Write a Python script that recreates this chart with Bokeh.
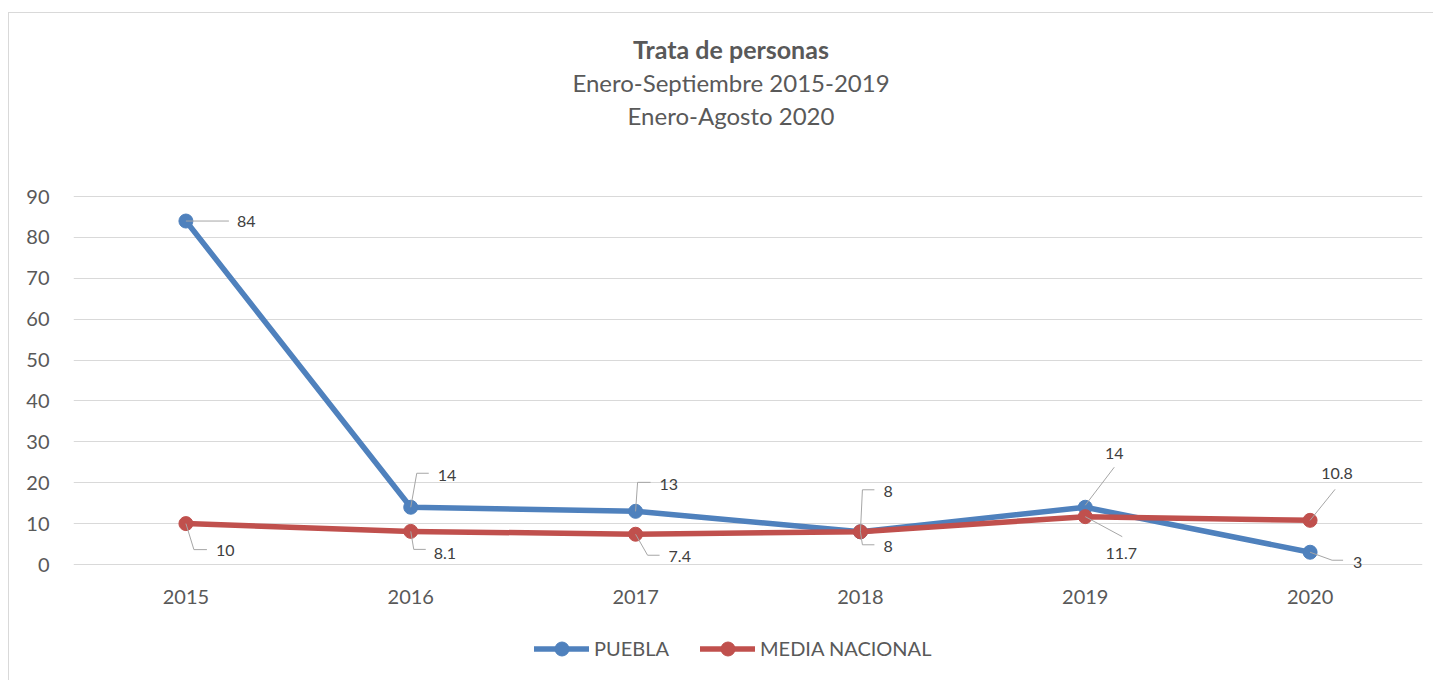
from bokeh.plotting import figure
from bokeh.layouts import column
from bokeh.models import (ColumnDataSource, LabelSet, Label, Legend, LegendItem,
                          FixedTicker, Range1d)
from bokeh.embed import file_html
from bokeh.resources import INLINE
from bokeh.core.properties import value

# ---------------- data ----------------
years = ["2015", "2016", "2017", "2018", "2019", "2020"]
puebla = [84, 14, 13, 8, 14, 3]
media_nacional = [10, 8.1, 7.4, 8, 11.7, 10.8]
series_names = ["PUEBLA", "MEDIA NACIONAL"]
title_lines = ["Trata de personas", "Enero-Septiembre 2015-2019", "Enero-Agosto 2020"]
y_ticks = [0, 10, 20, 30, 40, 50, 60, 70, 80, 90]

# ---------------- styles / layout ----------------
OX, OY = 9, 13                      # content origin on the page (inside css border)
W = 1433 - OX
SPLIT = 620                         # page y where the legend strip begins
H_MAIN = SPLIT - OY
H_LEG = 680 - SPLIT
PAGE_FRAME_L, PAGE_FRAME_R = 73, 1422
PAGE_FRAME_T, PAGE_FRAME_B = 14, 580
PAGE_Y90, PAGE_Y0 = 196, 564
ML = PAGE_FRAME_L - OX
MR = W - (PAGE_FRAME_R - OX)
MT = PAGE_FRAME_T - OY
MB = SPLIT - PAGE_FRAME_B
FW = W - ML - MR
PX_UNIT = (PAGE_Y0 - PAGE_Y90) / 90.0
Y_HI = 90 + (PAGE_Y90 - PAGE_FRAME_T) / PX_UNIT
Y_LO = -(PAGE_FRAME_B - PAGE_Y0) / PX_UNIT
PX_CAT = FW / len(years)

FONT = "Lato"
BLUE = "#4f81bd"
RED = "#c0504d"
TXT = "#595959"
LBL = "#404040"
GRID = "#d9d9d9"
LEADER = "#a6a6a6"

# data-label placement (screen px, y measured downward) and leader polylines
pue_lab = [(51, 0, "left"), (27, -32, "left"), (24, -27, "left"),
           (23, -40, "left"), (29, -54, "center"), (43, 10, "left")]
pue_lead = [[(0, 0), (43, 0)],
            [(0, 0), (6, -34), (18, -34)],
            [(0, 0), (2, -29), (15, -29)],
            [(0, 0), (2, -42), (14, -42)],
            [(0, -2), (29, -40)],
            [(0, 0), (22, 8), (33, 8)]]
med_lab = [(30, 27, "left"), (23, 22, "left"), (33, 22, "left"),
           (23, 15, "left"), (36, 37, "center"), (27, -47, "center")]
med_lead = [[(0, 0), (8, 26), (21, 26)],
            [(0, 0), (3, 18), (15, 18)],
            [(0, 0), (12, 21), (24, 21)],
            [(0, 0), (2, 13), (14, 13)],
            [(0, 0), (37, 20)],
            [(0, 0), (25, -31)]]

p = figure(width=W, height=H_MAIN, output_backend="svg", toolbar_location=None, tools="",
           x_range=Range1d(-0.5, len(years) - 0.5), y_range=Range1d(Y_LO, Y_HI),
           min_border_left=ML, min_border_right=MR, min_border_top=MT,
           min_border_bottom=MB)
p.background_fill_color = "white"
p.border_fill_color = "white"
p.outline_line_color = None

# axes
p.xaxis.ticker = FixedTicker(ticks=list(range(len(years))))
p.xaxis.major_label_overrides = {i: y for i, y in enumerate(years)}
p.yaxis.ticker = FixedTicker(ticks=y_ticks)
for ax in (p.xaxis[0], p.yaxis[0]):
    ax.axis_line_color = None
    ax.major_tick_line_color = None
    ax.minor_tick_line_color = None
    ax.major_tick_out = 0
    ax.major_tick_in = 0
    ax.major_label_text_font = FONT
    ax.major_label_text_font_size = "20px"
    ax.major_label_text_color = TXT
p.xaxis.major_label_standoff = 9
p.yaxis.major_label_standoff = 24
p.xgrid.visible = False
p.ygrid.ticker = FixedTicker(ticks=y_ticks)
p.ygrid.grid_line_color = GRID
p.ygrid.grid_line_width = 1

idx = list(range(len(years)))
colors = [BLUE, RED]
for vals, col in zip((puebla, media_nacional), colors):
    src = ColumnDataSource(dict(x=idx, y=vals))
    p.line("x", "y", source=src, line_color=col, line_width=5.5,
           line_join="round", line_cap="round")
    p.scatter("x", "y", source=src, size=14, fill_color=col, line_color=col)

# leader lines + data labels
for vals, leads, labs in ((puebla, pue_lead, pue_lab), (media_nacional, med_lead, med_lab)):
    xs = [[i + dx / PX_CAT for dx, dy in pts] for i, pts in zip(idx, leads)]
    ys = [[v - dy / PX_UNIT for dx, dy in pts] for v, pts in zip(vals, leads)]
    p.multi_line(xs=xs, ys=ys, line_color=LEADER, line_width=1)
    lsrc = ColumnDataSource(dict(
        x=idx, y=vals, text=[f"{v:g}" for v in vals],
        xo=[l[0] for l in labs], yo=[-l[1] for l in labs], align=[l[2] for l in labs]))
    p.add_layout(LabelSet(x="x", y="y", text="text", source=lsrc,
                          x_offset="xo", y_offset="yo", text_align="align",
                          text_baseline="middle", text_font=value(FONT),
                          text_font_size="16px", text_color=LBL))

# titles (inside the frame, which reaches up to the top of the chart)
title_x = 730.5 - PAGE_FRAME_L
centers = [48, 82, 115]
sizes = ["25px", "24px", "24px"]
for i, (t, c, s) in enumerate(zip(title_lines, centers, sizes)):
    p.add_layout(Label(x=title_x, y=PAGE_FRAME_B - c, x_units="screen", y_units="screen",
                       text=t, text_align="center", text_baseline="middle",
                       text_font=FONT, text_font_size=s, text_color=TXT,
                       text_font_style="bold" if i == 0 else "normal"))

# ---------------- legend strip ----------------
# (column aligns this strip's frame with the main frame: left edge at PAGE_FRAME_L)
LEG_X0, LEG_CY, GLYPH_H = 534, 648, 35
q = figure(width=W, height=H_LEG, output_backend="svg", toolbar_location=None, tools="",
           x_axis_location=None, y_axis_location=None,
           x_range=Range1d(-0.5, len(years) - 0.5), y_range=Range1d(0, 90),
           min_border_left=0, min_border_right=0, min_border_top=0, min_border_bottom=0)
q.background_fill_color = "white"
q.border_fill_color = "white"
q.outline_line_color = None
q.xgrid.visible = False
q.ygrid.visible = False
items = []
for name, vals, col in zip(series_names, (puebla, media_nacional), colors):
    s = ColumnDataSource(dict(x=idx, y=vals))
    lr = q.line("x", "y", source=s, line_color=col, line_width=5.5, line_cap="round",
                visible=False)
    sr = q.scatter("x", "y", source=s, size=14, fill_color=col, line_color=col,
                   visible=False)
    items.append(LegendItem(label=name, renderers=[lr, sr]))
legend = Legend(items=items, orientation="horizontal",
                location=(LEG_X0 - PAGE_FRAME_L, 680 - (LEG_CY + GLYPH_H / 2)),
                glyph_width=55, glyph_height=GLYPH_H, label_standoff=5, spacing=31,
                padding=0, margin=0, border_line_color=None, background_fill_alpha=0,
                label_text_font=FONT, label_text_font_size="20px",
                label_text_color=TXT, label_text_baseline="middle")
q.add_layout(legend, "center")

layout = column(p, q, spacing=0,
                styles={"margin-left": "8px", "margin-top": "12px",
                        "border-left": "1px solid #d9d9d9",
                        "border-top": "1px solid #d9d9d9"})

open("out.html", "w").write(file_html(layout, INLINE))
